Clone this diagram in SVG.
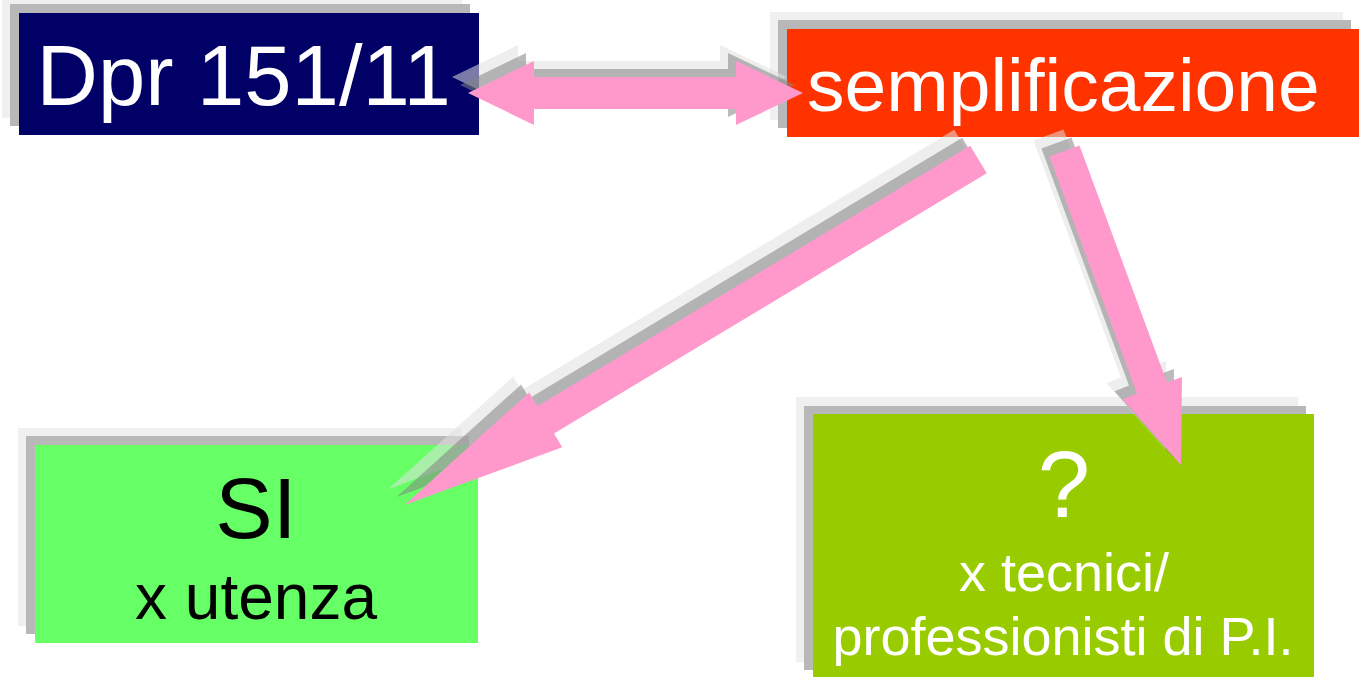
<svg xmlns="http://www.w3.org/2000/svg" xmlns:xlink="http://www.w3.org/1999/xlink" width="1359" height="677" viewBox="0 0 1359 677">
  <style>
    .sh1 { fill: #f0f0f0; }
    .sh2 { fill: #b8b8b8; }
    .ash1 { fill: #e0e0e0; fill-opacity: 0.55; }
    .ash2 { fill: #848484; fill-opacity: 0.55; }
    .arrow { fill: #ff99cc; }
    text { font-family: "Liberation Sans", Arial, sans-serif; }
    .w { fill: #ffffff; }
    .k { fill: #000000; }
  </style>
  <defs>
    <polygon id="a-double" points="468,93 534,61 534,77 736,77 736,61 803,93 736,125 736,109 534,109 534,125"/>
    <polygon id="a-left" points="970.2,145.8 986.8,173.2 554,433.6 562.2,447.3 404.5,505 529.2,392.5 537.4,406.2"/>
    <polygon id="a-right" points="1049.5,156.6 1079.5,145.4 1167,382.4 1182,377 1181,465 1122.5,399.3 1137,393.6"/>
  </defs>
  <rect width="1359" height="677" fill="#ffffff"/>

  <g id="node-dpr">
    <rect class="sh1" x="2" y="-4" width="460" height="122"/>
    <rect class="sh2" x="10" y="4" width="460" height="122"/>
    <rect x="19" y="13" width="460" height="122" fill="#000066"/>
    <text class="w" x="36.5" y="105" font-size="85">Dpr 151/11</text>
  </g>

  <g id="node-semplificazione">
    <rect class="sh1" x="770" y="12" width="573" height="108"/>
    <rect class="sh2" x="778" y="20" width="573" height="108"/>
    <rect x="787" y="29" width="573" height="108" fill="#ff3300"/>
    <text class="w" x="807" y="111" font-size="75">semplificazione</text>
  </g>

  <g id="node-si">
    <rect class="sh1" x="18" y="428" width="443" height="198"/>
    <rect class="sh2" x="26" y="436" width="443" height="198"/>
    <rect x="35" y="445" width="443" height="198" fill="#66ff66"/>
    <text class="k" x="256" y="538" font-size="86" text-anchor="middle">SI</text>
    <text class="k" x="256" y="619" font-size="64" text-anchor="middle">x utenza</text>
  </g>

  <g id="node-question">
    <rect class="sh1" x="796" y="397" width="502" height="265"/>
    <rect class="sh2" x="804" y="406" width="502" height="264"/>
    <rect x="813" y="414" width="501" height="263" fill="#99cc00"/>
    <text class="w" x="1064" y="517" font-size="94" text-anchor="middle">?</text>
    <text class="w" x="1064" y="591" font-size="54" text-anchor="middle">x tecnici/</text>
    <text class="w" x="1063" y="655" font-size="54" text-anchor="middle">professionisti di P.I.</text>
  </g>

  <g id="connectors">
    <g id="conn-dpr-semplificazione">
      <use xlink:href="#a-double" class="ash1" transform="translate(-16,-16)"/>
      <use xlink:href="#a-double" class="ash2" transform="translate(-8,-8)"/>
      <use xlink:href="#a-double" class="arrow"/>
    </g>
    <g id="conn-semplificazione-si">
      <use xlink:href="#a-left" class="ash1" transform="translate(-16,-16)"/>
      <use xlink:href="#a-left" class="ash2" transform="translate(-8,-8)"/>
      <use xlink:href="#a-left" class="arrow"/>
    </g>
    <g id="conn-semplificazione-question">
      <use xlink:href="#a-right" class="ash1" transform="translate(-16,-16)"/>
      <use xlink:href="#a-right" class="ash2" transform="translate(-8,-8)"/>
      <use xlink:href="#a-right" class="arrow"/>
    </g>
  </g>
</svg>
